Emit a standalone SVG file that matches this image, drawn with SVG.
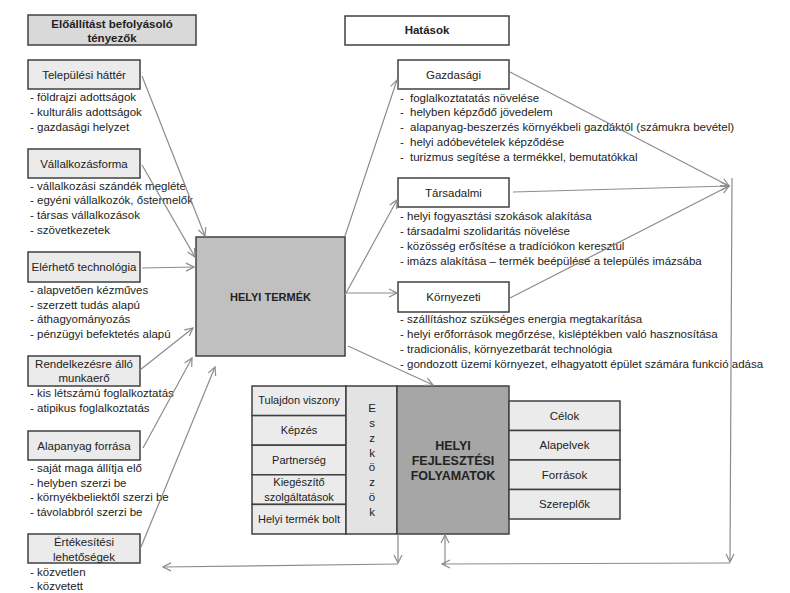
<svg xmlns="http://www.w3.org/2000/svg" width="790" height="593" viewBox="0 0 790 593">
<defs>
<marker id="ah" markerWidth="10" markerHeight="10" refX="9" refY="5" orient="auto" markerUnits="userSpaceOnUse">
<path d="M1,1 L9,5 L1,9" fill="none" stroke="#8c8c8c" stroke-width="1.2"/>
</marker>
</defs>
<style>
.bx{stroke:#404040;stroke-width:1.5}
.f1{fill:#ebebeb}
.hd{fill:#d9d9d9}
.wh{fill:#ffffff}
.t{font-family:"Liberation Sans",Arial,sans-serif;font-size:11.5px;fill:#222}
.c{text-anchor:middle}
.b{font-weight:bold}
.s11{font-size:11px}
.cn line{stroke:#8c8c8c;stroke-width:1.2;fill:none}
.ar{marker-end:url(#ah)}
</style>
<rect width="790" height="593" fill="#fff"/>

<g id="hdr-left">
<rect class="bx hd" x="28" y="15" width="168" height="30"/>
<text class="t c b" x="112" y="28">Előállítást befolyásoló</text>
<text class="t c b" x="112" y="42">tényezők</text>
</g>
<g id="hdr-right">
<rect class="bx wh" x="345" y="16" width="164" height="29"/>
<text class="t c b" x="427" y="34">Hatások</text>
</g>

<g id="telepulesi">
<rect class="bx f1" x="28" y="60" width="112" height="29"/>
<text class="t c" x="84" y="78.5">Települési háttér</text>
<text class="t" x="30" y="101">- földrajzi adottságok</text>
<text class="t" x="30" y="116">- kulturális adottságok</text>
<text class="t" x="30" y="131">- gazdasági helyzet</text>
</g>
<g id="vallalkozas">
<rect class="bx f1" x="28" y="149" width="112" height="29"/>
<text class="t c" x="84" y="167.5">Vállalkozásforma</text>
<text class="t" x="30" y="189.5">- vállalkozási szándék megléte</text>
<text class="t" x="30" y="204">- egyéni vállalkozók, őstermelők</text>
<text class="t" x="30" y="219">- társas vállalkozások</text>
<text class="t" x="30" y="234">- szövetkezetek</text>
</g>
<g id="technologia">
<rect class="bx f1" x="28" y="252" width="112" height="30"/>
<text class="t c" x="84" y="271">Elérhető technológia</text>
<text class="t" x="30" y="294">- alapvetően kézműves</text>
<text class="t" x="30" y="309">- szerzett tudás alapú</text>
<text class="t" x="30" y="323">- áthagyományozás</text>
<text class="t" x="30" y="338">- pénzügyi befektetés alapú</text>
</g>
<g id="munkaero">
<rect class="bx f1" x="28" y="356" width="112" height="30"/>
<text class="t c" x="84" y="368">Rendelkezésre álló</text>
<text class="t c" x="84" y="382">munkaerő</text>
<text class="t" x="30" y="397">- kis létszámú foglalkoztatás</text>
<text class="t" x="30" y="412">- atipikus foglalkoztatás</text>
</g>
<g id="alapanyag">
<rect class="bx f1" x="28" y="431" width="112" height="29"/>
<text class="t c" x="84" y="449.5">Alapanyag forrása</text>
<text class="t" x="30" y="472">- saját maga állítja elő</text>
<text class="t" x="30" y="487">- helyben szerzi be</text>
<text class="t" x="30" y="501">- környékbeliektől szerzi be</text>
<text class="t" x="30" y="516">- távolabbról szerzi be</text>
</g>
<g id="ertekesites">
<rect class="bx f1" x="28" y="534" width="112" height="29"/>
<text class="t c" x="84" y="546">Értékesítési</text>
<text class="t c" x="84" y="561">lehetőségek</text>
<text class="t" x="30" y="576">- közvetlen</text>
<text class="t" x="30" y="590">- közvetett</text>
</g>

<g id="helyi-termek">
<rect class="bx" fill="#c0c0c0" x="196" y="237" width="149" height="119"/>
<text class="t c b s11" x="270.5" y="301">HELYI TERMÉK</text>
</g>

<g id="gazdasagi">
<rect class="bx wh" x="398" y="60" width="111" height="29"/>
<text class="t c" x="453.5" y="78.5">Gazdasági</text>
<text class="t" y="101.5"><tspan x="400">-</tspan><tspan x="410">foglalkoztatatás növelése</tspan></text>
<text class="t" y="116"><tspan x="400">-</tspan><tspan x="410">helyben képződő jövedelem</tspan></text>
<text class="t" y="131"><tspan x="400">-</tspan><tspan x="410">alapanyag-beszerzés környékbeli gazdáktól (számukra bevétel)</tspan></text>
<text class="t" y="145.5"><tspan x="400">-</tspan><tspan x="410">helyi adóbevételek képződése</tspan></text>
<text class="t" y="160.5"><tspan x="400">-</tspan><tspan x="410">turizmus segítése a termékkel, bemutatókkal</tspan></text>
</g>
<g id="tarsadalmi">
<rect class="bx wh" x="398" y="178" width="111" height="29"/>
<text class="t c" x="453.5" y="196.5">Társadalmi</text>
<text class="t" x="400" y="220">- helyi fogyasztási szokások alakítása</text>
<text class="t" x="400" y="235">- társadalmi szolidaritás növelése</text>
<text class="t" x="400" y="249.5">- közösség erősítése a tradíciókon keresztül</text>
<text class="t" x="400" y="264.5">- imázs alakítása – termék beépülése a település imázsába</text>
</g>
<g id="kornyezeti">
<rect class="bx wh" x="398" y="282" width="111" height="30"/>
<text class="t c" x="453.5" y="301">Környezeti</text>
<text class="t" x="400" y="323">- szállításhoz szükséges energia megtakarítása</text>
<text class="t" x="400" y="338">- helyi erőforrások megőrzése, kisléptékben való hasznosítása</text>
<text class="t" x="400" y="353">- tradicionális, környezetbarát technológia</text>
<text class="t" x="400" y="367.5">- gondozott üzemi környezet, elhagyatott épület számára funkció adása</text>
</g>

<g id="eszkozok-lista">
<rect class="bx f1" x="252" y="386" width="94" height="29.6"/>
<rect class="bx f1" x="252" y="415.6" width="94" height="29.6"/>
<rect class="bx f1" x="252" y="445.2" width="94" height="29.6"/>
<rect class="bx f1" x="252" y="474.8" width="94" height="29.6"/>
<rect class="bx f1" x="252" y="504.4" width="94" height="29.6"/>
<text class="t c s11" x="299" y="404">Tulajdon viszony</text>
<text class="t c s11" x="299" y="434">Képzés</text>
<text class="t c s11" x="299" y="463.5">Partnerség</text>
<text class="t c s11" x="299" y="486">Kiegészítő</text>
<text class="t c s11" x="299" y="501">szolgáltatások</text>
<text class="t c s11" x="299" y="523">Helyi termék bolt</text>
</g>
<g id="eszkozok">
<rect class="bx" fill="#e3e3e3" x="346" y="386" width="51" height="148"/>
<text class="t c" x="372" y="412">E</text>
<text class="t c" x="372" y="427">s</text>
<text class="t c" x="372" y="442">z</text>
<text class="t c" x="372" y="457">k</text>
<text class="t c" x="372" y="471">ö</text>
<text class="t c" x="372" y="486">z</text>
<text class="t c" x="372" y="501">ö</text>
<text class="t c" x="372" y="516">k</text>
</g>
<g id="fejlesztesi">
<rect class="bx" fill="#a6a6a6" x="397" y="386" width="112" height="148"/>
<text class="t c b" style="font-size:12.5px" x="453" y="449.5">HELYI</text>
<text class="t c b" style="font-size:12.5px" x="453" y="464.5">FEJLESZTÉSI</text>
<text class="t c b" style="font-size:12.5px" x="453" y="479.5">FOLYAMATOK</text>
</g>
<g id="celok-lista">
<rect class="bx f1" x="509" y="401" width="111" height="29.5"/>
<rect class="bx f1" x="509" y="430.5" width="111" height="29.5"/>
<rect class="bx f1" x="509" y="460" width="111" height="29.5"/>
<rect class="bx f1" x="509" y="489.5" width="111" height="29.5"/>
<text class="t c" x="564.5" y="419.5">Célok</text>
<text class="t c" x="564.5" y="449">Alapelvek</text>
<text class="t c" x="564.5" y="478.5">Források</text>
<text class="t c" x="564.5" y="508">Szereplők</text>
</g>

<g id="connectors" class="cn">
<line class="ar" x1="142" y1="76" x2="205" y2="236"/>
<line class="ar" x1="142" y1="165" x2="195" y2="257"/>
<line class="ar" x1="142" y1="268" x2="194" y2="267"/>
<line class="ar" x1="140" y1="370" x2="193" y2="328"/>
<line class="ar" x1="143" y1="448" x2="192" y2="358"/>
<line class="ar" x1="141" y1="547" x2="215" y2="367"/>
<line class="ar" x1="345" y1="236" x2="397" y2="80"/>
<line class="ar" x1="345" y1="295" x2="397" y2="200"/>
<line class="ar" x1="345" y1="293" x2="397" y2="293"/>
<line class="ar" x1="348" y1="346" x2="433" y2="385"/>
<line class="ar" x1="510" y1="72" x2="729" y2="186"/>
<line class="ar" x1="513" y1="192" x2="729" y2="186"/>
<line class="ar" x1="510" y1="298" x2="729" y2="186"/>
<line class="ar" x1="732" y1="178" x2="730" y2="562"/>
<line class="ar" x1="730" y1="563" x2="442" y2="564"/>
<line class="ar" x1="445" y1="565" x2="445" y2="535"/>
<line class="ar" x1="398" y1="534" x2="398" y2="563"/>
<line class="ar" x1="398" y1="564" x2="163" y2="567"/>
</g>
</svg>
